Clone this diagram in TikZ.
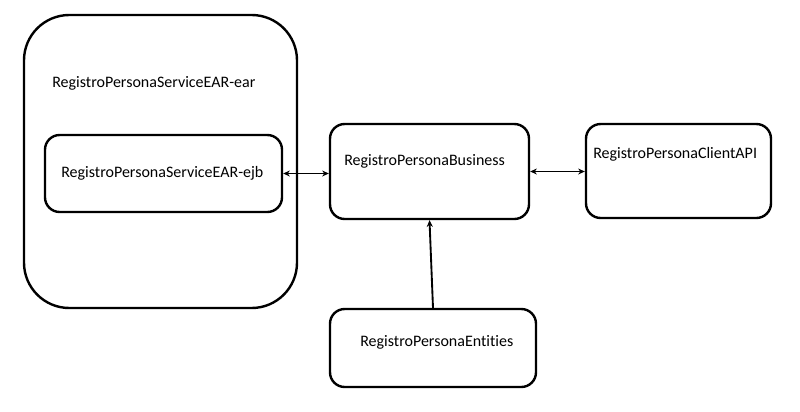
\documentclass[tikz,border=0pt]{standalone}
\usepackage{fontspec}
\setmainfont{Carlito}[Ligatures=CommonOff]
\usetikzlibrary{arrows.meta}
\tikzset{
  modbox/.style={draw,line width=1.8pt,rounded corners=11pt,inner sep=0pt},
  modtext/.style={anchor=base west,inner sep=0pt,font=\fontsize{12}{14}\selectfont},
  link/.style={line width=1.4pt,{Stealth[length=5pt,width=4.5pt]}-{Stealth[length=5pt,width=4.5pt]}}
}
\begin{document}
\begin{tikzpicture}[x=0.75pt,y=-0.75pt]
  \useasboundingbox (0,0) rectangle (800,411);
  % boxes
  \node[modbox,rounded corners=34pt,minimum width=273*0.75pt,minimum height=293*0.75pt] (ear) at (160.5,161.5) {};
  \node[modbox,minimum width=237*0.75pt,minimum height=77*0.75pt] (ejb) at (163.5,173.5) {};
  \node[modbox,minimum width=199*0.75pt,minimum height=95*0.75pt] (bus) at (429.5,171.5) {};
  \node[modbox,minimum width=185*0.75pt,minimum height=94*0.75pt] (api) at (678.5,171) {};
  \node[modbox,minimum width=206*0.75pt,minimum height=78*0.75pt] (ent) at (433,348) {};
  % labels
  \node[modtext] (earlbl) at (52,87) {RegistroPersonaServiceEAR-ear};
  \node[modtext] (ejblbl) at (61,177) {RegistroPersonaServiceEAR-ejb};
  \node[modtext] (buslbl) at (344,165) {RegistroPersonaBusiness};
  \node[modtext] (apilbl) at (593,158) {RegistroPersonaClientAPI};
  \node[modtext] (entlbl) at (360,346) {RegistroPersonaEntities};
  % connectors
  \draw[link] (ejb.east) -- (ejb.east -| bus.west);
  \draw[link] (bus.east) -- (bus.east -| api.west);
  \draw[line width=1.4pt,-{Stealth[length=5pt,width=4.5pt]}] (ent.north) -- (bus.south);
\end{tikzpicture}
\end{document}
